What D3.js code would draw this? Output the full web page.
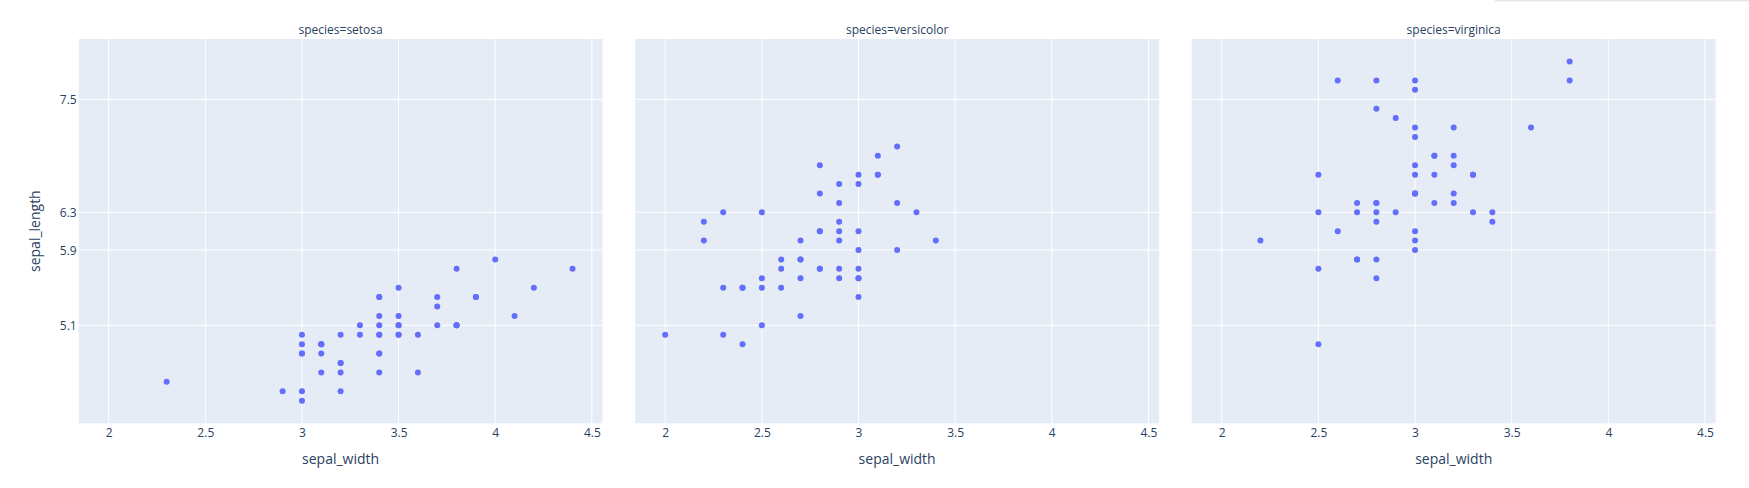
<!DOCTYPE html>
<html>
<head>
<meta charset="utf-8">
<script src="https://cdn.jsdelivr.net/npm/d3@7"></script>
<style>
  html, body { margin: 0; padding: 0; background: #fff; }
  svg { display: block; }
  text { font-family: "Open Sans", verdana, arial, sans-serif; fill: #2a3f5f; }
</style>
</head>
<body>
<svg id="chart" width="1749" height="488"></svg>
<script>
// ---- data (iris: sepal_width, sepal_length per species) ----
const species = ["setosa", "versicolor", "virginica"];

const setosaWidth  = [3.5,3.0,3.2,3.1,3.6,3.9,3.4,3.4,2.9,3.1,3.7,3.4,3.0,3.0,4.0,4.4,3.9,3.5,3.8,3.8,3.4,3.7,3.6,3.3,3.4,3.0,3.4,3.5,3.4,3.2,3.1,3.4,4.1,4.2,3.1,3.2,3.5,3.1,3.0,3.4,3.5,2.3,3.2,3.5,3.8,3.0,3.8,3.2,3.7,3.3];
const setosaLength = [5.1,4.9,4.7,4.6,5.0,5.4,4.6,5.0,4.4,4.9,5.4,4.8,4.8,4.3,5.8,5.7,5.4,5.1,5.7,5.1,5.4,5.1,4.6,5.1,4.8,5.0,5.0,5.2,5.2,4.7,4.8,5.4,5.2,5.5,4.9,5.0,5.5,4.9,4.4,5.1,5.0,4.5,4.4,5.0,5.1,4.8,5.1,4.6,5.3,5.0];

const versicolorWidth  = [3.2,3.2,3.1,2.3,2.8,2.8,3.3,2.4,2.9,2.7,2.0,3.0,2.2,2.9,2.9,3.1,3.0,2.7,2.2,2.5,3.2,2.8,2.5,2.8,2.9,3.0,2.8,3.0,2.9,2.6,2.4,2.4,2.7,2.7,3.0,3.4,3.1,2.3,3.0,2.5,2.6,3.0,2.6,2.3,2.7,3.0,2.9,2.9,2.5,2.8];
const versicolorLength = [7.0,6.4,6.9,5.5,6.5,5.7,6.3,4.9,6.6,5.2,5.0,5.9,6.0,6.1,5.6,6.7,5.6,5.8,6.2,5.6,5.9,6.1,6.3,6.1,6.4,6.6,6.8,6.7,6.0,5.7,5.5,5.5,5.8,6.0,5.4,6.0,6.7,6.3,5.6,5.5,5.5,6.1,5.8,5.0,5.6,5.7,5.7,6.2,5.1,5.7];

const virginicaWidth  = [3.3,2.7,3.0,2.9,3.0,3.0,2.5,2.9,2.5,3.6,3.2,2.7,3.0,2.5,2.8,3.2,3.0,3.8,2.6,2.2,3.2,2.8,2.8,2.7,3.3,3.2,2.8,3.0,2.8,3.0,2.8,3.8,2.8,2.8,2.6,3.0,3.4,3.1,3.0,3.1,3.1,3.1,2.7,3.2,3.3,3.0,2.5,3.0,3.4,3.0];
const virginicaLength = [6.3,5.8,7.1,6.3,6.5,7.6,4.9,7.3,6.7,7.2,6.5,6.4,6.8,5.7,5.8,6.4,6.5,7.7,7.7,6.0,6.9,5.6,7.7,6.3,6.7,7.2,6.2,6.1,6.4,7.2,7.4,7.9,6.4,6.3,6.1,7.7,6.3,6.4,6.0,6.9,6.7,6.9,5.8,6.8,6.7,6.7,6.3,6.5,6.2,5.9];

const xTicks = [2, 2.5, 3, 3.5, 4, 4.5];
const xTickLabels = ["2", "2.5", "3", "3.5", "4", "4.5"];
const yTicks = [5.1, 5.9, 6.3, 7.5];
const yTickLabels = ["5.1", "5.9", "6.3", "7.5"];

const xTitle = "sepal_width";
const yTitle = "sepal_length";

// ---- layout ----
const svg = d3.select("#chart");
const W = 1749, H = 488;
const plotLeft = 78.7, plotRight = 1715.6, plotTop = 39, plotBottom = 423.3;
const total = plotRight - plotLeft;
const gap = 0.02 * total;
const panelW = (total - 2 * gap) / 3;

const seriesX = [setosaWidth, versicolorWidth, virginicaWidth];
const seriesY = [setosaLength, versicolorLength, virginicaLength];

const y = d3.scaleLinear().domain([4.06, 8.14]).range([plotBottom, plotTop]);

// faint shadow at top right (as in reference screenshot)
svg.append("rect").attr("x", 1495).attr("y", 0).attr("width", W - 1495).attr("height", 1).attr("fill", "#e6e6e6");
svg.append("rect").attr("x", 1495).attr("y", 1).attr("width", W - 1495).attr("height", 1).attr("fill", "#f5f5f5");

species.forEach((sp, i) => {
  const x0 = plotLeft + i * (panelW + gap);
  const x = d3.scaleLinear().domain([1.845, 4.555]).range([x0, x0 + panelW]);

  const g = svg.append("g");
  g.append("rect")
    .attr("x", x0).attr("y", plotTop)
    .attr("width", panelW).attr("height", plotBottom - plotTop)
    .attr("fill", "#E5ECF6");

  // grid
  g.selectAll(".vg").data(xTicks).enter().append("line")
    .attr("x1", d => x(d)).attr("x2", d => x(d))
    .attr("y1", plotTop).attr("y2", plotBottom)
    .attr("stroke", "#fff").attr("stroke-width", 1);
  g.selectAll(".hg").data(yTicks).enter().append("line")
    .attr("x1", x0).attr("x2", x0 + panelW)
    .attr("y1", d => y(d)).attr("y2", d => y(d))
    .attr("stroke", "#fff").attr("stroke-width", 1);

  // x axis
  const xAxis = d3.axisBottom(x).tickValues(xTicks)
    .tickFormat((d, k) => xTickLabels[k]).tickSize(0).tickPadding(0);
  const xa = g.append("g").attr("transform", `translate(0,${plotBottom})`).call(xAxis);
  xa.select(".domain").remove();
  xa.selectAll("text")
    .attr("y", 13.6).attr("dy", null)
    .style("font-size", "12px")
    .style("font-family", '"Open Sans", verdana, arial, sans-serif')
    .attr("fill", "#2a3f5f");

  // x title
  g.append("text")
    .attr("x", x0 + panelW / 2).attr("y", 464)
    .attr("text-anchor", "middle")
    .style("font-size", "14px")
    .text(xTitle);

  // facet title
  g.append("text")
    .attr("x", x0 + panelW / 2).attr("y", 33.5)
    .attr("text-anchor", "middle")
    .style("font-size", "12px")
    .text("species=" + sp);

  // points
  g.selectAll("circle").data(seriesX[i].map((v, k) => [v, seriesY[i][k]]))
    .enter().append("circle")
    .attr("cx", d => x(d[0])).attr("cy", d => y(d[1]))
    .attr("r", 3)
    .attr("fill", "#636efa");

  if (i === 0) {
    const yAxis = d3.axisLeft(y).tickValues(yTicks)
      .tickFormat((d, k) => yTickLabels[k]).tickSize(0).tickPadding(0);
    const ya = g.append("g").attr("transform", `translate(${x0 - 2},0)`).call(yAxis);
    ya.select(".domain").remove();
    ya.selectAll("text")
      .attr("x", 0).attr("dy", "0.35em")
      .style("font-size", "12px")
      .style("font-family", '"Open Sans", verdana, arial, sans-serif')
      .attr("fill", "#2a3f5f");
  }
});

// y title
svg.append("text")
  .attr("transform", `translate(40,${(plotTop + plotBottom) / 2}) rotate(-90)`)
  .attr("text-anchor", "middle")
  .style("font-size", "14px")
  .text(yTitle);
</script>
</body>
</html>
